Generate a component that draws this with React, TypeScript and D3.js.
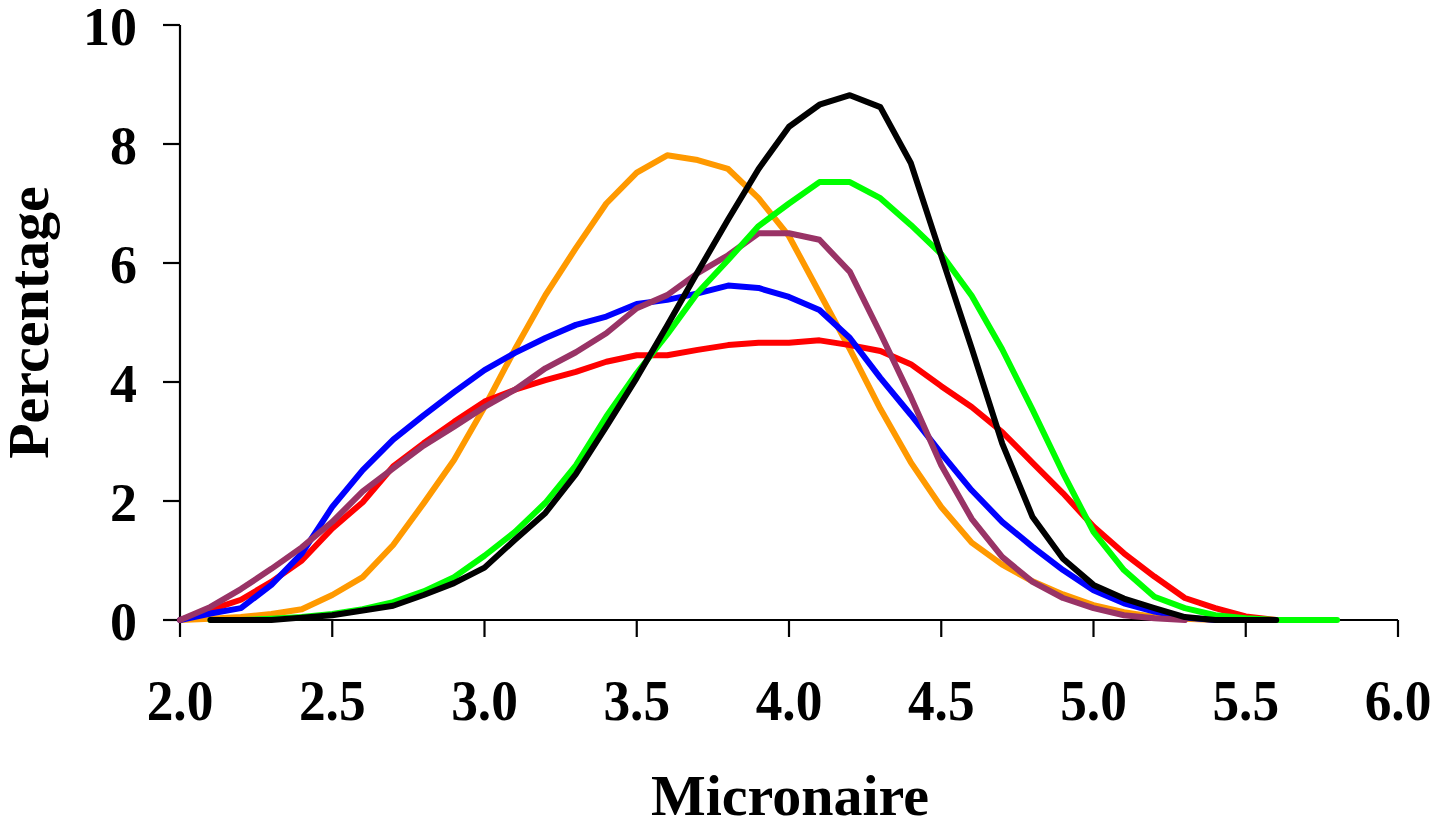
import React from "react";
import * as d3 from "d3";

const redX = [2.0,2.1,2.2,2.3,2.4,2.5,2.6,2.7,2.8,2.9,3.0,3.1,3.2,3.3,3.4,3.5,3.6,3.7,3.8,3.9,4.0,4.1,4.2,4.3,4.4,4.5,4.6,4.7,4.8,4.9,5.0,5.1,5.2,5.3,5.4,5.5,5.6];
const redY = [0,0.17,0.34,0.64,1.0,1.54,1.98,2.58,2.97,3.33,3.67,3.87,4.03,4.17,4.34,4.45,4.45,4.54,4.62,4.66,4.66,4.7,4.62,4.52,4.3,3.93,3.58,3.16,2.64,2.13,1.57,1.12,0.73,0.37,0.2,0.06,0];

const blueX = [2.0,2.1,2.2,2.3,2.4,2.5,2.6,2.7,2.8,2.9,3.0,3.1,3.2,3.3,3.4,3.5,3.6,3.7,3.8,3.9,4.0,4.1,4.2,4.3,4.4,4.5,4.6,4.7,4.8,4.9,5.0,5.1,5.2,5.3,5.4];
const blueY = [0,0.11,0.2,0.59,1.12,1.9,2.52,3.03,3.44,3.83,4.2,4.49,4.74,4.96,5.1,5.31,5.38,5.49,5.62,5.58,5.43,5.21,4.74,4.07,3.45,2.8,2.18,1.65,1.23,0.84,0.5,0.28,0.14,0.04,0];

const orangeX = [2.0,2.1,2.2,2.3,2.4,2.5,2.6,2.7,2.8,2.9,3.0,3.1,3.2,3.3,3.4,3.5,3.6,3.7,3.8,3.9,4.0,4.1,4.2,4.3,4.4,4.5,4.6,4.7,4.8,4.9,5.0,5.1,5.2,5.3,5.4];
const orangeY = [0,0.02,0.05,0.1,0.18,0.42,0.72,1.26,1.96,2.69,3.58,4.55,5.46,6.25,7.0,7.52,7.81,7.73,7.58,7.09,6.45,5.5,4.55,3.55,2.65,1.9,1.3,0.93,0.65,0.43,0.25,0.13,0.05,0.02,0];

const purpleX = [2.0,2.1,2.2,2.3,2.4,2.5,2.6,2.7,2.8,2.9,3.0,3.1,3.2,3.3,3.4,3.5,3.6,3.7,3.8,3.9,4.0,4.1,4.2,4.3,4.4,4.5,4.6,4.7,4.8,4.9,5.0,5.1,5.2,5.3];
const purpleY = [0,0.22,0.52,0.86,1.22,1.65,2.16,2.55,2.93,3.25,3.58,3.87,4.23,4.5,4.82,5.24,5.46,5.83,6.13,6.5,6.5,6.39,5.85,4.82,3.75,2.6,1.7,1.06,0.64,0.37,0.2,0.08,0.03,0];

const greenX = [2.1,2.2,2.3,2.4,2.5,2.6,2.7,2.8,2.9,3.0,3.1,3.2,3.3,3.4,3.5,3.6,3.7,3.8,3.9,4.0,4.1,4.2,4.3,4.4,4.5,4.6,4.7,4.8,4.9,5.0,5.1,5.2,5.3,5.4,5.5,5.6,5.7,5.8];
const greenY = [0,0,0.02,0.05,0.1,0.18,0.3,0.48,0.72,1.08,1.48,1.97,2.6,3.42,4.15,4.8,5.5,6.05,6.62,7.0,7.36,7.36,7.09,6.64,6.15,5.45,4.55,3.53,2.47,1.48,0.84,0.39,0.2,0.08,0.03,0,0,0];

const blackX = [2.1,2.2,2.3,2.4,2.5,2.6,2.7,2.8,2.9,3.0,3.1,3.2,3.3,3.4,3.5,3.6,3.7,3.8,3.9,4.0,4.1,4.2,4.3,4.4,4.5,4.6,4.7,4.8,4.9,5.0,5.1,5.2,5.3,5.4,5.5,5.6];
const blackY = [0,0,0,0.04,0.08,0.16,0.24,0.42,0.62,0.88,1.35,1.8,2.45,3.25,4.07,4.95,5.85,6.73,7.58,8.29,8.66,8.82,8.62,7.68,6.12,4.57,2.97,1.73,1.03,0.59,0.36,0.2,0.05,0,0,0];

const xTicks = [2.0, 2.5, 3.0, 3.5, 4.0, 4.5, 5.0, 5.5, 6.0];
const yTicks = [0, 2, 4, 6, 8, 10];

const seriesList = [
  { name: "orange", color: "#FF9900", xs: orangeX, ys: orangeY },
  { name: "red", color: "#FF0000", xs: redX, ys: redY },
  { name: "blue", color: "#0000FF", xs: blueX, ys: blueY },
  { name: "purple", color: "#993366", xs: purpleX, ys: purpleY },
  { name: "green", color: "#00FF00", xs: greenX, ys: greenY },
  { name: "black", color: "#000000", xs: blackX, ys: blackY },
];

export default function App() {
  const W = 1437, H = 828;
  const left = 180, right = 1398, top = 25, bottom = 620;
  const x = d3.scaleLinear().domain([2, 6]).range([left, right]);
  const y = d3.scaleLinear().domain([0, 10]).range([bottom, top]);
  const line = d3
    .line<[number, number]>()
    .x((d) => x(d[0]))
    .y((d) => y(d[1]));
  const font = "'Liberation Serif', 'Times New Roman', serif";

  return (
    <svg
      width={W}
      height={H}
      style={{ position: "absolute", left: 0, top: 0, background: "#fff" }}
    >
      <rect x={0} y={0} width={W} height={H} fill="#fff" />
      {/* axes */}
      <line x1={left} x2={left} y1={top} y2={bottom + 1} stroke="#000" strokeWidth={2.2} />
      <line x1={left - 1} x2={right} y1={bottom} y2={bottom} stroke="#000" strokeWidth={2.2} />
      {yTicks.map((t) => (
        <g key={"y" + t}>
          <line x1={left - 17} x2={left} y1={y(t)} y2={y(t)} stroke="#000" strokeWidth={2.2} />
          <text
            x={137}
            y={y(t) + 20}
            textAnchor="end"
            fontFamily={font}
            fontWeight="bold"
            fontSize={54}
            fill="#000"
          >
            {t}
          </text>
        </g>
      ))}
      {xTicks.map((t) => (
        <g key={"x" + t}>
          <line x1={x(t)} x2={x(t)} y1={bottom} y2={bottom + 17} stroke="#000" strokeWidth={2.2} />
          <g transform={`translate(${x(t)},720) scale(0.92,1)`}>
            <text
              x={0}
              y={0}
              textAnchor="middle"
              fontFamily={font}
              fontWeight="bold"
              fontSize={58}
              fill="#000"
            >
              {t.toFixed(1)}
            </text>
          </g>
        </g>
      ))}
      {/* series */}
      {seriesList.map((s) => (
        <path
          key={s.name}
          d={line(s.xs.map((v, i) => [v, s.ys[i]] as [number, number])) || ""}
          fill="none"
          stroke={s.color}
          strokeWidth={6}
          strokeLinejoin="round"
          strokeLinecap="round"
        />
      ))}
      {/* titles */}
      <text
        x={790}
        y={815}
        textAnchor="middle"
        fontFamily={font}
        fontWeight="bold"
        fontSize={58}
        fill="#000"
      >
        Micronaire
      </text>
      <text
        transform={`translate(48,${(top + bottom) / 2}) rotate(-90)`}
        textAnchor="middle"
        fontFamily={font}
        fontWeight="bold"
        fontSize={58}
        fill="#000"
      >
        Percentage
      </text>
    </svg>
  );
}
